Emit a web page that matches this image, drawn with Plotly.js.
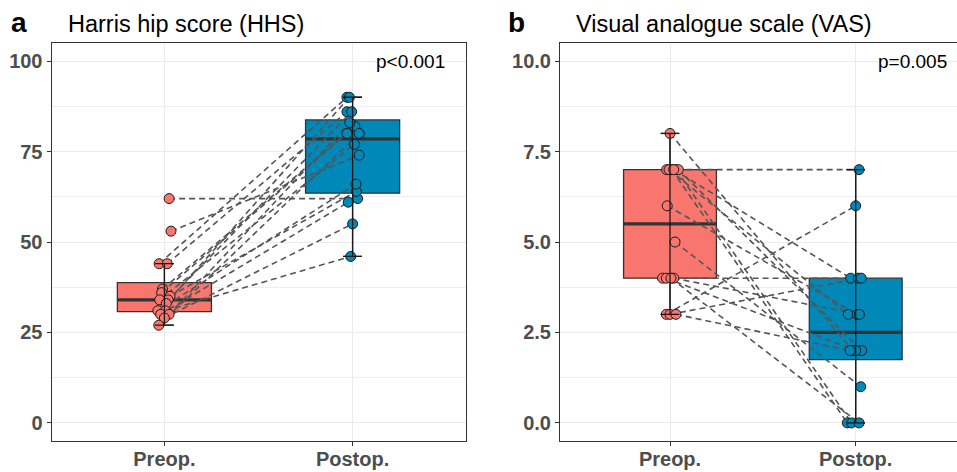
<!DOCTYPE html>
<html>
<head>
<meta charset="utf-8">
<script src="https://cdn.plot.ly/plotly-3.0.1.min.js"></script>
<style>html,body{margin:0;padding:0;background:#fff;} #chart{width:957px;height:472px;}</style>
</head>
<body>
<div id="chart"></div>
<script>
// ---- Data (paired by patient index) ----
const categories = ['Preop.', 'Postop.'];
const hhsPre  = [62, 53, 44, 44, 37, 36, 35, 34, 34, 33, 31, 31, 30, 30, 29, 27];
const hhsPost = [62, 74, 90, 86, 82, 80, 64, 86, 77, 90, 66, 46, 61, 83, 55, 80];
const vasPre  = [8, 7, 7, 7, 7, 7, 7, 6, 5, 4, 4, 4, 4, 3, 3, 3];
const vasPost = [2, 7, 0, 0, 2, 3, 4, 3, 1, 4, 2, 3, 0, 6, 4, 2];
// horizontal jitter (category units)
const hhsPreJit  = [0.025, 0.035, -0.028, 0.015, -0.01, -0.015, 0.03, 0.02, -0.025, 0.01, -0.035, 0.005, -0.02, 0.025, 0.0, -0.03];
const hhsPostJit = [0.027, 0.035, -0.03, -0.03, 0.012, -0.03, 0.02, -0.005, 0.01, -0.017, 0.018, -0.01, -0.023, -0.015, 0.0, 0.035];
const vasPreJit  = [0.0, -0.018, 0.009, 0.032, 0.045, -0.005, 0.02, -0.015, 0.027, -0.04, -0.02, 0.02, 0.005, -0.02, 0.0, 0.032];
const vasPostJit = [-0.015, 0.018, -0.045, -0.022, 0.032, -0.04, -0.027, 0.009, 0.027, 0.014, 0.0, 0.02, 0.018, 0.0, 0.03, -0.03];
const pTexts = ['p<0.001', 'p=0.005'];
const panelTitles = ['Harris hip score (HHS)', 'Visual analogue scale (VAS)'];
const panelLetters = ['a', 'b'];

const colPre = '#F8766D', colPost = '#0088B9';
const W = 957, H = 472;
const FONT = 'Liberation Sans, Arial, sans-serif';

function q7(arr, p) {
  const s = [...arr].sort((a, b) => a - b);
  const h = (s.length - 1) * p, lo = Math.floor(h);
  const hi = Math.min(lo + 1, s.length - 1);
  return s[lo] + (h - lo) * (s[hi] - s[lo]);
}
function stats(arr) {
  const q1 = q7(arr, 0.25), med = q7(arr, 0.5), q3 = q7(arr, 0.75);
  const iqr = q3 - q1;
  const lo = Math.min(...arr.filter(v => v >= q1 - 1.5 * iqr));
  const hi = Math.max(...arr.filter(v => v <= q3 + 1.5 * iqr));
  return {q1, med, q3, lo, hi};
}

const traces = [];
function addPanel(pre, post, preJit, postJit, xa, ya) {
  const groups = [pre, post];
  const cols = [colPre, colPost];
  groups.forEach((g, k) => {
    const s = stats(g), c = k + 1;
    traces.push({type: 'box', orientation: 'v', x: [c], q1: [s.q1], median: [s.med], q3: [s.q3],
      lowerfence: [s.lo], upperfence: [s.hi], width: 0.5, whiskerwidth: 0.2,
      fillcolor: cols[k], line: {color: '#333333', width: 1.3}, boxpoints: false,
      xaxis: xa, yaxis: ya, hoverinfo: 'skip', showlegend: false});
    traces.push({type: 'scatter', mode: 'lines', x: [c - 0.25, c + 0.25], y: [s.med, s.med],
      line: {color: '#333333', width: 3.2}, xaxis: xa, yaxis: ya, hoverinfo: 'skip', showlegend: false});
  });
  const lx = [], ly = [];
  pre.forEach((v, i) => { lx.push(1 + preJit[i], 2 + postJit[i], null); ly.push(v, post[i], null); });
  traces.push({type: 'scatter', mode: 'lines', x: lx, y: ly,
    line: {color: '#555555', width: 1.6, dash: '6px,4px'}, xaxis: xa, yaxis: ya, hoverinfo: 'skip', showlegend: false});
  traces.push({type: 'scatter', mode: 'markers', x: pre.map((v, i) => 1 + preJit[i]), y: pre,
    marker: {color: colPre, size: 10, line: {color: '#1a1a1a', width: 1}}, xaxis: xa, yaxis: ya, hoverinfo: 'skip', showlegend: false});
  traces.push({type: 'scatter', mode: 'markers', x: post.map((v, i) => 2 + postJit[i]), y: post,
    marker: {color: colPost, size: 10, line: {color: '#1a1a1a', width: 1}}, xaxis: xa, yaxis: ya, hoverinfo: 'skip', showlegend: false});
  groups.forEach((g, k) => {
    const s = stats(g), c = k + 1;
    traces.push({type: 'scatter', mode: 'lines',
      x: [c - 0.05, c + 0.05, null, c, c, null, c - 0.05, c + 0.05],
      y: [s.lo, s.lo, null, s.lo, s.hi, null, s.hi, s.hi],
      line: {color: '#1a1a1a', width: 1.3}, xaxis: xa, yaxis: ya, hoverinfo: 'skip', showlegend: false});
  });
}
addPanel(hhsPre, hhsPost, hhsPreJit, hhsPostJit, 'x', 'y');
addPanel(vasPre, vasPost, vasPreJit, vasPostJit, 'x2', 'y2');

const tickFont = {family: FONT, size: 20, color: '#4D4D4D', weight: 'bold'};
const gridC = '#EBEBEB';
const yDomain = [31 / H, 429 / H];
function xAxis(domain, range, anchor, mirror) {
  return {domain, range, anchor, tickvals: [1, 2], ticktext: categories, showgrid: true, gridcolor: gridC, gridwidth: 1,
    zeroline: false, showline: true, linecolor: '#333333', linewidth: 1, mirror, ticklabelstandoff: -4,
    ticks: 'outside', ticklen: 4, tickcolor: '#333333', tickwidth: 1, tickfont: tickFont, automargin: false, fixedrange: true};
}
function yAxis(range, tickvals, ticktext, minorD, anchor, mirror) {
  return {domain: yDomain, range, anchor, tickvals, ticktext, showgrid: true, gridcolor: gridC, gridwidth: 1,
    minor: {dtick: minorD, tick0: 0, showgrid: true, gridcolor: gridC, gridwidth: 0.8},
    zeroline: false, showline: true, linecolor: '#333333', linewidth: 1, mirror,
    ticks: 'outside', ticklen: 4, tickcolor: '#333333', tickwidth: 1, tickfont: tickFont, automargin: false, fixedrange: true};
}

const layout = {
  width: W, height: H, margin: {l: 0, r: 0, t: 0, b: 0}, paper_bgcolor: '#fff', plot_bgcolor: '#fff',
  showlegend: false,
  xaxis: xAxis([51.5 / W, 465.5 / W], [0.4, 2.6], 'y', true),
  yaxis: yAxis([-5, 105], [0, 25, 50, 75, 100], ['0', '25', '50', '75', '100'], 12.5, 'x', true),
  xaxis2: xAxis([560 / W, 1], [0.4076, 2.5455], 'y2', true),
  yaxis2: yAxis([-0.5, 10.5], [0, 2.5, 5, 7.5, 10], ['0.0', '2.5', '5.0', '7.5', '10.0'], 1.25, 'x2', false),
  annotations: [
    {xref: 'paper', yref: 'paper', x: 9 / W, y: 1 - 23 / H, xanchor: 'left', yanchor: 'middle', showarrow: false,
      text: panelLetters[0], font: {family: FONT, size: 28, color: '#000', weight: 'bold'}},
    {xref: 'paper', yref: 'paper', x: 66 / W, y: 1 - 24 / H, xanchor: 'left', yanchor: 'middle', showarrow: false,
      text: panelTitles[0], font: {family: FONT, size: 23.5, color: '#000'}},
    {xref: 'paper', yref: 'paper', x: 506 / W, y: 1 - 23 / H, xanchor: 'left', yanchor: 'middle', showarrow: false,
      text: panelLetters[1], font: {family: FONT, size: 28, color: '#000', weight: 'bold'}},
    {xref: 'paper', yref: 'paper', x: 574 / W, y: 1 - 24 / H, xanchor: 'left', yanchor: 'middle', showarrow: false,
      text: panelTitles[1], font: {family: FONT, size: 23.5, color: '#000'}},
    {xref: 'x', yref: 'y', x: 2.5, y: 100, xanchor: 'right', yanchor: 'middle', showarrow: false,
      text: pTexts[0], font: {family: FONT, size: 19, color: '#000'}},
    {xref: 'x2', yref: 'y2', x: 2.5, y: 10, xanchor: 'right', yanchor: 'middle', showarrow: false,
      text: pTexts[1], font: {family: FONT, size: 19, color: '#000'}}
  ]
};
Plotly.newPlot('chart', traces, layout, {displayModeBar: false, staticPlot: true});
</script>
</body>
</html>
